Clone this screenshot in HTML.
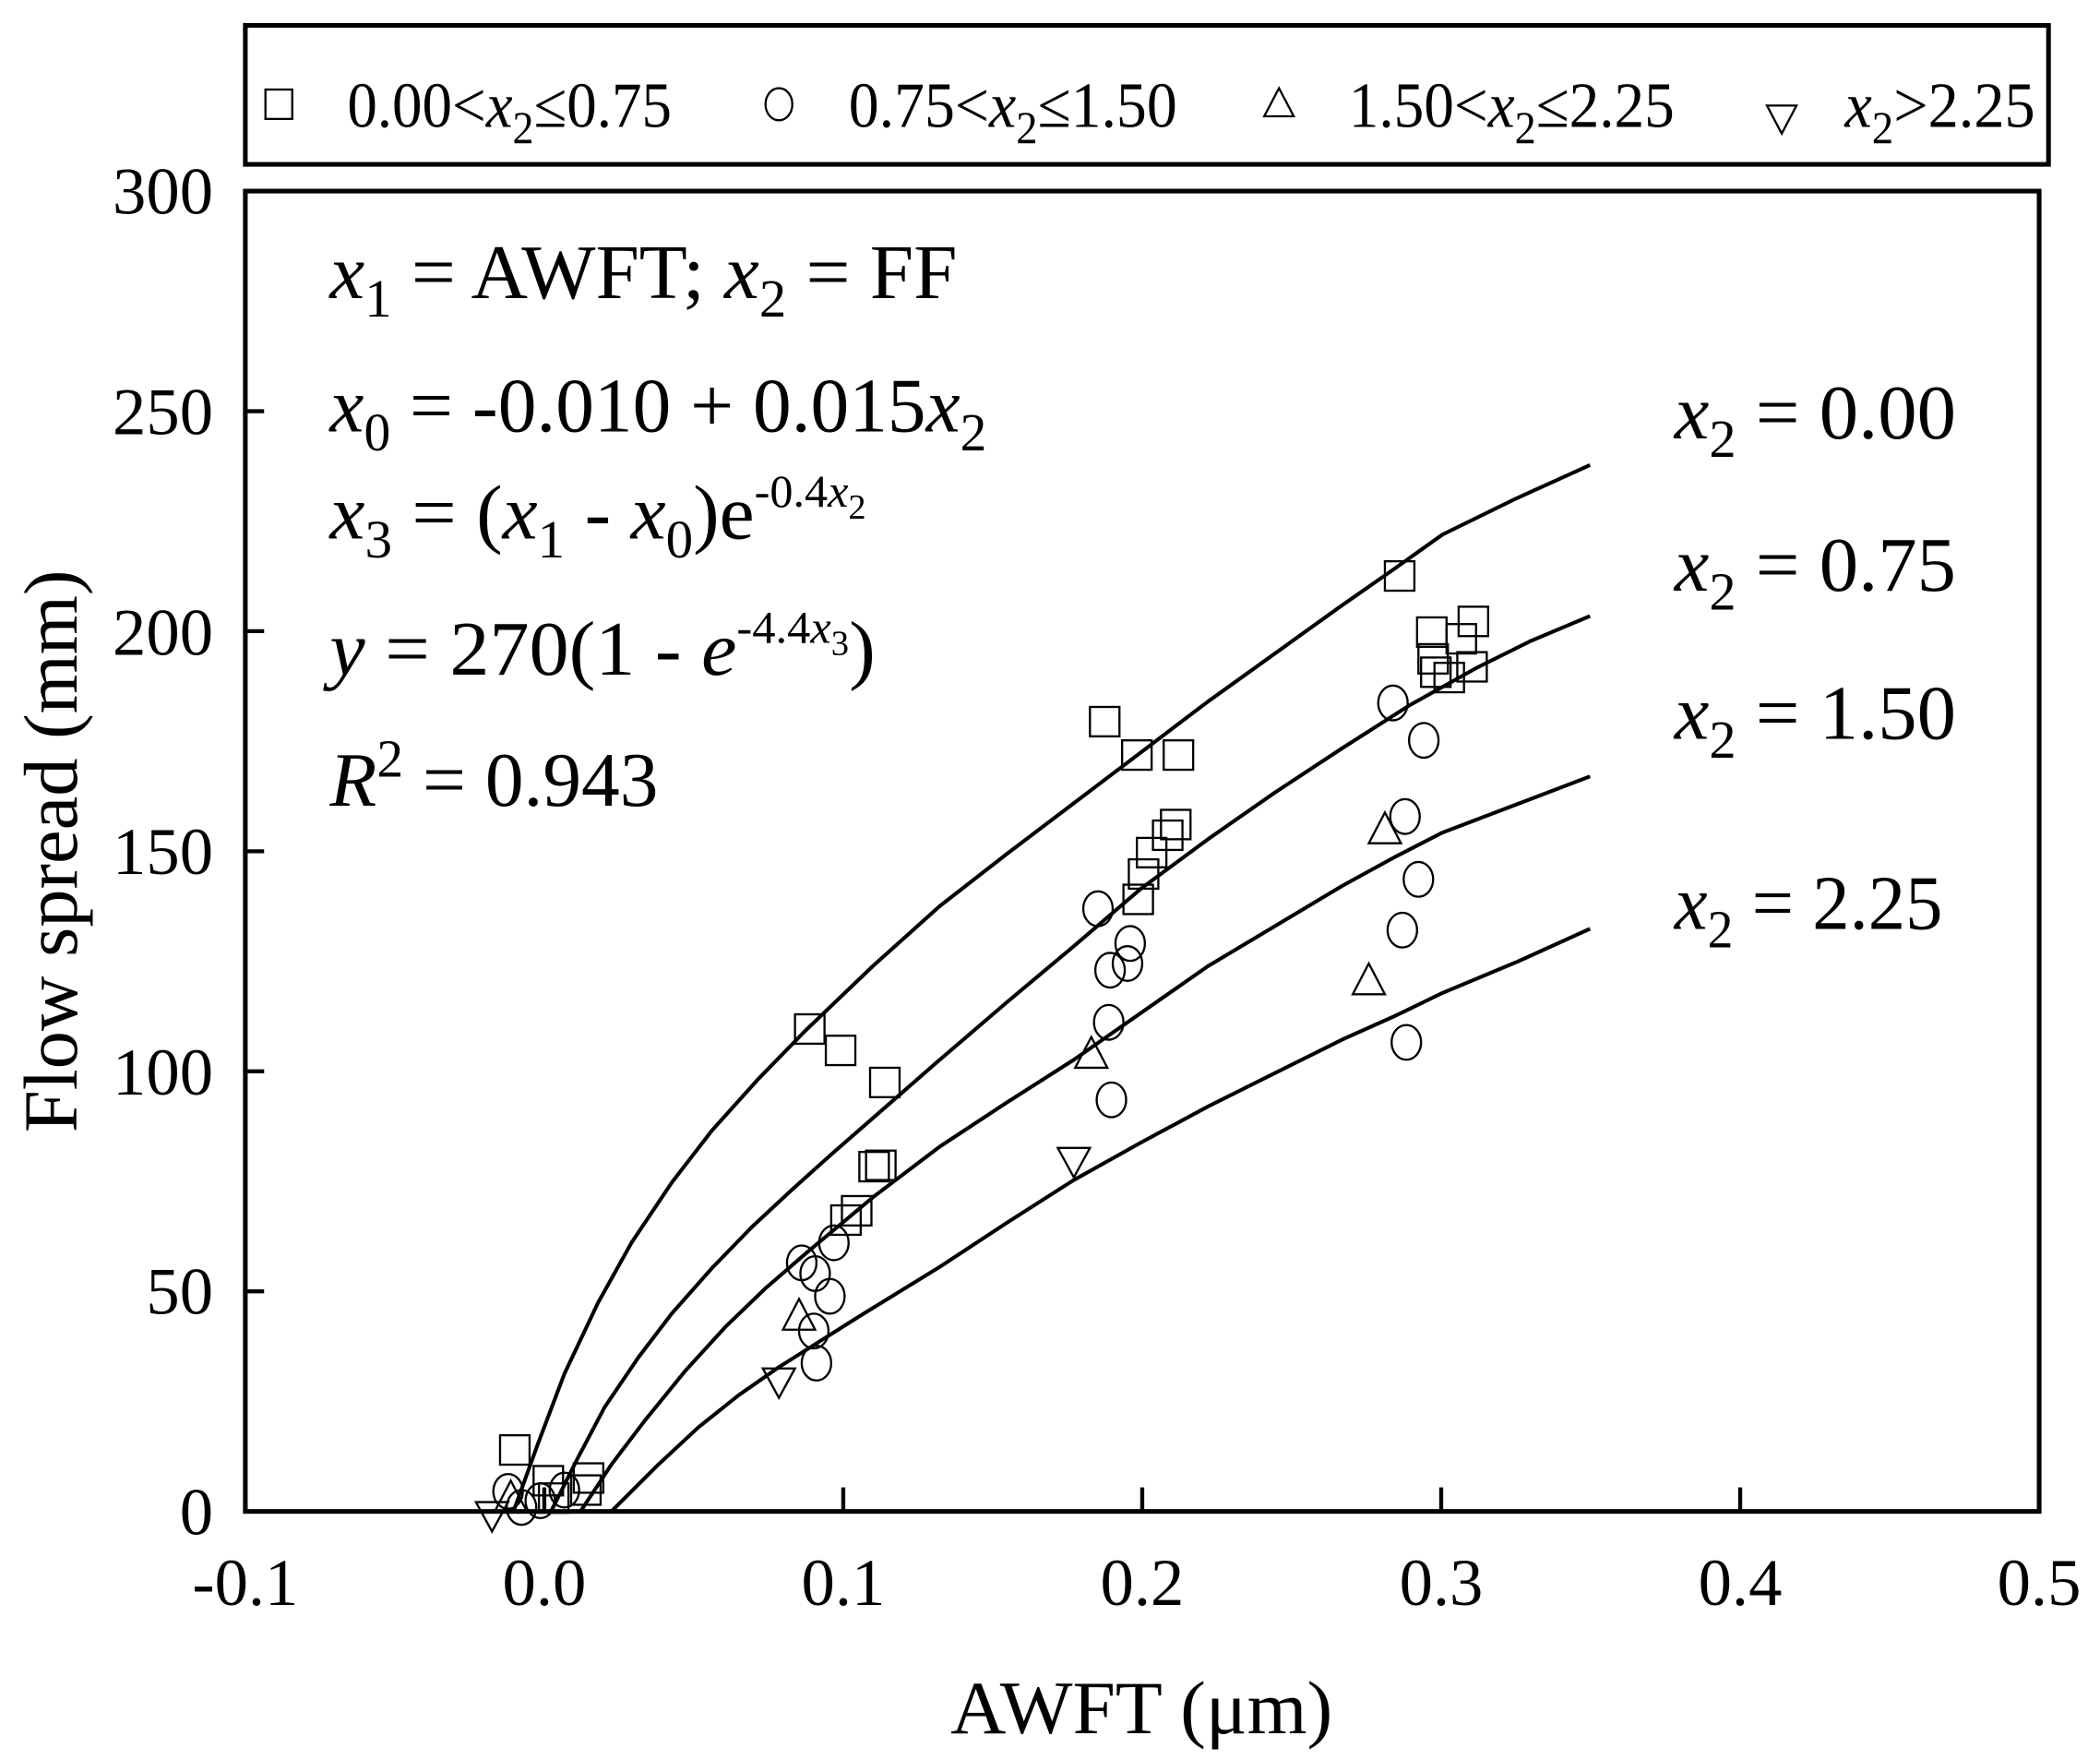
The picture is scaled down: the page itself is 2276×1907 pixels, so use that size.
<!DOCTYPE html>
<html><head><meta charset="utf-8"><style>
html,body{margin:0;padding:0;background:#fff;}
svg{display:block;}
text{font-family:"Liberation Serif",serif;fill:#000;}
</style></head><body>
<svg width="2276" height="1907" viewBox="-1 -3 1566.4 1317" preserveAspectRatio="none" xmlns="http://www.w3.org/2000/svg">
<rect x="182" y="16" width="1345" height="104" fill="none" stroke="#000" stroke-width="3.5"/>
<g fill="none" stroke="#000" stroke-width="1.6">
<rect x="197" y="64" width="20" height="22"/>
<ellipse cx="580" cy="75" rx="10" ry="12"/>
<polygon points="953,63 964,84 942,84"/>
<polygon points="1317,76 1339,76 1328,97"/>
</g>
<g font-size="48">
<text x="258" y="92" textLength="242" lengthAdjust="spacingAndGlyphs">0.00&lt;<tspan font-style="italic">x</tspan><tspan font-size="34" dy="12">2</tspan><tspan dy="-12">≤0.75</tspan></text>
<text x="632" y="92" textLength="245" lengthAdjust="spacingAndGlyphs">0.75&lt;<tspan font-style="italic">x</tspan><tspan font-size="34" dy="12">2</tspan><tspan dy="-12">≤1.50</tspan></text>
<text x="1005" y="92" textLength="243" lengthAdjust="spacingAndGlyphs">1.50&lt;<tspan font-style="italic">x</tspan><tspan font-size="34" dy="12">2</tspan><tspan dy="-12">≤2.25</tspan></text>
<text x="1375" y="92" textLength="142" lengthAdjust="spacingAndGlyphs"><tspan font-style="italic">x</tspan><tspan font-size="34" dy="12">2</tspan><tspan dy="-12">&gt;2.25</tspan></text>
</g>
<rect x="182" y="140" width="1338" height="988" fill="none" stroke="#000" stroke-width="3.5"/>
<g stroke="#000" stroke-width="3">
<line x1="182" y1="963.3" x2="196" y2="963.3"/>
<line x1="182" y1="798.7" x2="196" y2="798.7"/>
<line x1="182" y1="634" x2="196" y2="634"/>
<line x1="182" y1="469.3" x2="196" y2="469.3"/>
<line x1="182" y1="304.7" x2="196" y2="304.7"/>
<line x1="405" y1="1128" x2="405" y2="1110"/>
<line x1="628" y1="1128" x2="628" y2="1110"/>
<line x1="851" y1="1128" x2="851" y2="1110"/>
<line x1="1074" y1="1128" x2="1074" y2="1110"/>
<line x1="1297" y1="1128" x2="1297" y2="1110"/>
</g>
<g font-size="50" text-anchor="end">
<text x="158" y="1145">0</text>
<text x="158" y="980">50</text>
<text x="158" y="816">100</text>
<text x="158" y="651">150</text>
<text x="158" y="487">200</text>
<text x="158" y="322">250</text>
<text x="158" y="157">300</text>
</g>
<g font-size="50" text-anchor="middle">
<text x="182" y="1198">-0.1</text>
<text x="405" y="1198">0.0</text>
<text x="628" y="1198">0.1</text>
<text x="851" y="1198">0.2</text>
<text x="1074" y="1198">0.3</text>
<text x="1297" y="1198">0.4</text>
<text x="1520" y="1198">0.5</text>
</g>
<text x="708" y="1294" font-size="56" textLength="285" lengthAdjust="spacingAndGlyphs">AWFT (μm)</text>
<text transform="translate(56,634) rotate(-90)" font-size="57" text-anchor="middle">Flow spread (mm)</text>
<g fill="none" stroke="#000" stroke-width="2.8" stroke-linejoin="round">
<polyline points="382,1128 400,1078 420,1025 445,972 470,927 500,882 530,843 565,804 600,768 650,720 700,675 750,636 800,598 850,560 900,522 950,486 1000,450 1040,422 1075,397 1130,370 1185,345"/>
<polyline points="410,1128 430,1088 450,1050 475,1013 500,980 530,946 560,915 590,887 620,860 660,825 700,790 750,747 800,705 850,662 900,625 950,590 1000,557 1050,525 1100,497 1140,477 1185,458"/>
<polyline points="432,1128 455,1093 480,1060 510,1023 540,990 570,961 600,935 650,893 700,855 750,822 800,790 850,755 900,720 950,690 1000,660 1040,638 1075,620 1130,599 1185,578"/>
<polyline points="455,1128 490,1093 520,1065 550,1041 580,1020 640,982 700,945 750,912 800,880 850,852 900,825 950,800 1000,775 1040,757 1075,740 1130,717 1185,692"/>
</g>
<g fill="none" stroke="#000" stroke-width="1.6">
<rect x="372" y="1071" width="22" height="22"/><rect x="397" y="1094" width="22" height="22"/><rect x="427" y="1092" width="22" height="22"/><rect x="425" y="1101" width="22" height="22"/><rect x="401" y="1107" width="22" height="22"/>
<rect x="592" y="756" width="22" height="22"/><rect x="615" y="772" width="22" height="22"/><rect x="648" y="796" width="22" height="22"/><rect x="640" y="859" width="22" height="22"/><rect x="645" y="858" width="22" height="22"/><rect x="619" y="899" width="22" height="22"/><rect x="627" y="892" width="22" height="22"/>
<rect x="812" y="526" width="22" height="22"/><rect x="836" y="551" width="22" height="22"/><rect x="867" y="551" width="22" height="22"/><rect x="837" y="659" width="22" height="22"/><rect x="841" y="640" width="22" height="22"/><rect x="847" y="624" width="22" height="22"/><rect x="859" y="611" width="22" height="22"/><rect x="865" y="603" width="22" height="22"/>
<rect x="1032" y="417" width="22" height="22"/><rect x="1056" y="459" width="22" height="22"/><rect x="1078" y="464" width="22" height="22"/><rect x="1087" y="451" width="22" height="22"/><rect x="1057" y="479" width="22" height="22"/><rect x="1059" y="489" width="22" height="22"/><rect x="1086" y="485" width="22" height="22"/><rect x="1069" y="493" width="22" height="22"/>
<ellipse cx="378" cy="1113" rx="11" ry="13"/><ellipse cx="388" cy="1125" rx="11" ry="13"/><ellipse cx="402" cy="1120" rx="11" ry="13"/><ellipse cx="420" cy="1112" rx="11" ry="13"/>
<ellipse cx="597" cy="942" rx="11" ry="13"/><ellipse cx="607" cy="950" rx="11" ry="13"/><ellipse cx="621" cy="927" rx="11" ry="13"/><ellipse cx="618" cy="967" rx="11" ry="13"/><ellipse cx="606" cy="993" rx="11" ry="13"/><ellipse cx="608" cy="1017" rx="11" ry="13"/>
<ellipse cx="818" cy="677" rx="11" ry="13"/><ellipse cx="842" cy="703" rx="11" ry="13"/><ellipse cx="827" cy="723" rx="11" ry="13"/><ellipse cx="840" cy="718" rx="11" ry="13"/><ellipse cx="826" cy="762" rx="11" ry="13"/><ellipse cx="828" cy="820" rx="11" ry="13"/>
<ellipse cx="1038" cy="523" rx="11" ry="13"/><ellipse cx="1061" cy="551" rx="11" ry="13"/><ellipse cx="1047" cy="608" rx="11" ry="13"/><ellipse cx="1057" cy="655" rx="11" ry="13"/><ellipse cx="1045" cy="693" rx="11" ry="13"/><ellipse cx="1048" cy="777" rx="11" ry="13"/>
<polygon points="380,1105 392,1128 368,1128"/>
<polygon points="595,969 607,992 583,992"/>
<polygon points="813,773 825,796 801,796"/>
<polygon points="1032,605 1044,628 1020,628"/>
<polygon points="1020,718 1032,741 1008,741"/>
<polygon points="354,1121 378,1121 366,1143"/>
<polygon points="568,1021 592,1021 580,1043"/>
<polygon points="788,856 812,856 800,878"/>
</g>
<g font-size="58">
<text x="245" y="220" textLength="468" lengthAdjust="spacingAndGlyphs"><tspan font-style="italic">x</tspan><tspan font-size="40" dy="14">1</tspan><tspan dy="-14"> = AWFT; </tspan><tspan font-style="italic">x</tspan><tspan font-size="40" dy="14">2</tspan><tspan dy="-14"> = FF</tspan></text>
<text x="245" y="320" textLength="490" lengthAdjust="spacingAndGlyphs"><tspan font-style="italic">x</tspan><tspan font-size="40" dy="14">0</tspan><tspan dy="-14"> = -0.010 + 0.015</tspan><tspan font-style="italic">x</tspan><tspan font-size="40" dy="14">2</tspan></text>
<text x="245" y="400" textLength="400" lengthAdjust="spacingAndGlyphs"><tspan font-style="italic">x</tspan><tspan font-size="40" dy="14">3</tspan><tspan dy="-14"> = (</tspan><tspan font-style="italic">x</tspan><tspan font-size="40" dy="14">1</tspan><tspan dy="-14"> - </tspan><tspan font-style="italic">x</tspan><tspan font-size="40" dy="14">0</tspan><tspan dy="-14">)e</tspan><tspan font-size="34" dy="-24">-0.4<tspan font-style="italic">x</tspan><tspan font-size="26" dy="9">2</tspan></tspan></text>
<text x="245" y="502" textLength="407" lengthAdjust="spacingAndGlyphs"><tspan font-style="italic">y</tspan> = 270(1 - <tspan font-style="italic">e</tspan><tspan font-size="34" dy="-24">-4.4<tspan font-style="italic">x</tspan><tspan font-size="26" dy="9">3</tspan></tspan><tspan dy="15">)</tspan></text>
<text x="245" y="600" textLength="245" lengthAdjust="spacingAndGlyphs"><tspan font-style="italic">R</tspan><tspan font-size="40" dy="-22">2</tspan><tspan dy="22"> = 0.943</tspan></text>
<text x="1248" y="325" textLength="210" lengthAdjust="spacingAndGlyphs"><tspan font-style="italic">x</tspan><tspan font-size="40" dy="14">2</tspan><tspan dy="-14"> = 0.00</tspan></text>
<text x="1248" y="439" textLength="210" lengthAdjust="spacingAndGlyphs"><tspan font-style="italic">x</tspan><tspan font-size="40" dy="14">2</tspan><tspan dy="-14"> = 0.75</tspan></text>
<text x="1248" y="550" textLength="210" lengthAdjust="spacingAndGlyphs"><tspan font-style="italic">x</tspan><tspan font-size="40" dy="14">2</tspan><tspan dy="-14"> = 1.50</tspan></text>
<text x="1248" y="692" textLength="200" lengthAdjust="spacingAndGlyphs"><tspan font-style="italic">x</tspan><tspan font-size="40" dy="14">2</tspan><tspan dy="-14"> = 2.25</tspan></text>
</g>
</svg>
</body></html>
